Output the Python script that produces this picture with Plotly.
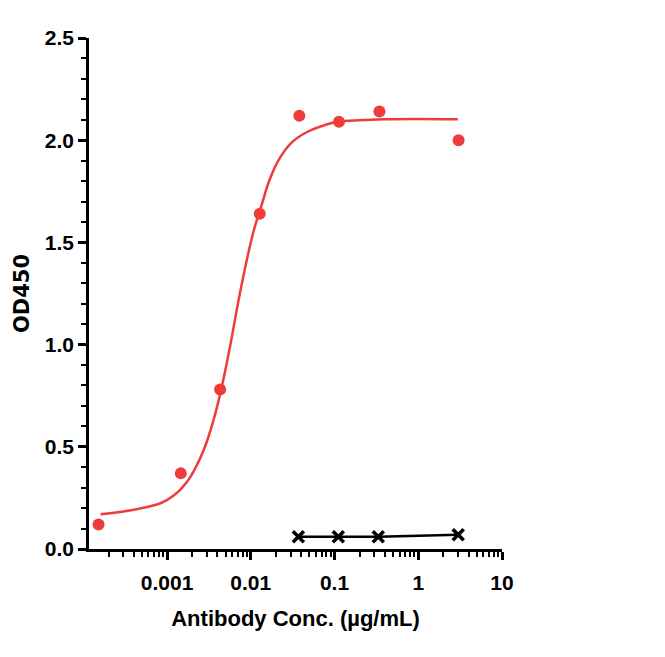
import plotly.graph_objects as go

# Datos
conc = [0.000152, 0.00146, 0.0043, 0.0128, 0.038, 0.113, 0.344, 3.03]
od450 = [0.12, 0.37, 0.78, 1.64, 2.12, 2.09, 2.14, 2.00]

# Curva ajustada (puntos leidos sobre la linea roja)
fit_conc = [0.000161, 0.000289, 0.000597, 0.00085, 0.0012, 0.0015, 0.00191, 0.00274,
            0.00359, 0.00442, 0.00565, 0.00741, 0.01065, 0.0133, 0.01675,
            0.022, 0.0316, 0.0497, 0.0778, 0.112, 0.397, 2.97]
fit_od = [0.170, 0.182, 0.207, 0.225, 0.262, 0.298, 0.354, 0.484,
          0.631, 0.778, 0.990, 1.250, 1.545, 1.675, 1.805,
          1.910, 1.993, 2.045, 2.075, 2.090, 2.102, 2.102]

# Control (cruces negras)
ctrl_conc = [0.037, 0.111, 0.333, 3.0]
ctrl_od = [0.06, 0.06, 0.06, 0.07]

x_ticks = [0.001, 0.01, 0.1, 1, 10]
x_labels = ["0.001", "0.01", "0.1", "1", "10"]

red = "#EE3B3B"
font = "Liberation Sans, Arial, sans-serif"

fig = go.Figure()

fig.add_trace(go.Scatter(
    x=fit_conc, y=fit_od, mode="lines",
    line=dict(color=red, width=2.5, shape="spline", smoothing=1.2),
    hoverinfo="skip", showlegend=False
))

fig.add_trace(go.Scatter(
    x=conc, y=od450, mode="markers",
    marker=dict(color=red, size=12, symbol="circle"),
    showlegend=False, cliponaxis=False
))

fig.add_trace(go.Scatter(
    x=ctrl_conc, y=ctrl_od, mode="lines+markers",
    line=dict(color="black", width=2.5),
    marker=dict(symbol="x-thin-open", size=11, line=dict(color="black", width=3.5)),
    showlegend=False, cliponaxis=False
))

fig.update_layout(
    width=665, height=657,
    margin=dict(l=76, r=171, t=30, b=116),
    paper_bgcolor="white", plot_bgcolor="white",
    font=dict(family=font, size=21, color="black"),
    xaxis=dict(
        type="log", range=[-3.932, 1],
        tickvals=x_ticks, ticktext=x_labels,
        ticks="outside", ticklen=8, tickwidth=2.5, tickcolor="black",
        ticklabelstandoff=5,
        minor=dict(ticks="outside", ticklen=5, tickwidth=2, tickcolor="black", dtick="D1"),
        showline=True, linecolor="black", linewidth=2.5,
        showgrid=False, zeroline=False,
        tickfont=dict(family=font, size=21, color="black", weight="bold"),
        title=dict(text="<b>Antibody Conc. (µg/mL)</b>", standoff=18,
                   font=dict(family=font, size=22, color="black")),
    ),
    yaxis=dict(
        range=[0, 2.5], dtick=0.5, tickformat=".1f",
        ticks="outside", ticklen=8, tickwidth=2.5, tickcolor="black",
        minor=dict(ticks="outside", ticklen=5, tickwidth=2, tickcolor="black", dtick=0.1),
        showline=True, linecolor="black", linewidth=2.5,
        showgrid=False, zeroline=False,
        tickfont=dict(family=font, size=21, color="black", weight="bold"),
        title=dict(text="<b>OD450</b>", standoff=10,
                   font=dict(family="DejaVu Sans, sans-serif", size=21, color="black")),
    ),
)

fig.write_html("out.html")
